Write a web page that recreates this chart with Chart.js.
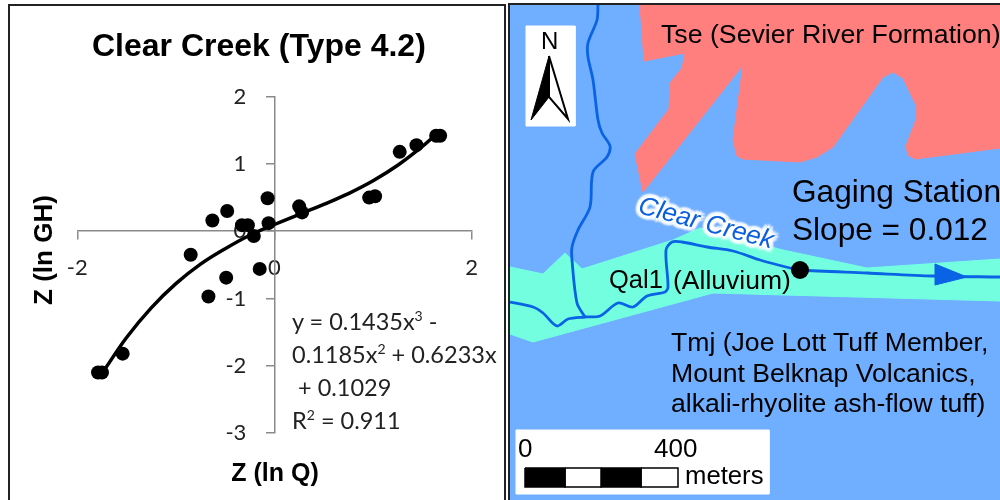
<!DOCTYPE html>
<html>
<head>
<meta charset="utf-8">
<script src="https://cdn.jsdelivr.net/npm/chart.js@4"></script>
<style>
    html, body { margin: 0; padding: 0; background: #fff; }
    #page { position: relative; width: 1000px; height: 500px; overflow: hidden; background: #fff; }
    #leftFrame { position: absolute; left: 8px; top: 4px; width: 498px; height: 500px; border: 2px solid #222; box-sizing: border-box; }
    #mapFrame { position: absolute; left: 508px; top: 3px; width: 500px; height: 500px; border: 2px solid #222; box-sizing: border-box; background: #70aeff; }
    #chartBox { position: absolute; left: 0; top: 0; width: 506px; height: 500px; }
    #mapBox { position: absolute; left: 510px; top: 5px; width: 490px; height: 495px; }
    .txt { position: absolute; white-space: nowrap; color: #000; font-family: "Liberation Sans", sans-serif; line-height: 1; }
    .bold { font-weight: bold; }
    .eq { font-family: Lato, sans-serif; font-size: 23.5px; color: #222; line-height: 33px; }
    .eq sup { font-size: 14px; line-height: 0; }
    .creek { color: #0a5fe0; font-style: italic; font-size: 26px; transform: rotate(15deg); transform-origin: center;
        text-shadow: 2px 0 1px #fff, -2px 0 1px #fff, 0 2px 1px #fff, 0 -2px 1px #fff, 3px 3px 2px #fff, -3px 3px 2px #fff, 3px -3px 2px #fff, -3px -3px 2px #fff, 4px 0 2px #fff, -4px 0 2px #fff, 0 4px 2px #fff, 0 -4px 2px #fff; }
</style>
</head>
<body>
<div id="page">
    <div id="leftFrame"></div>
    <div id="chartBox"><canvas id="curveChart" width="506" height="500"></canvas></div>
    <div class="txt bold" style="left:92px; top:29px; font-size:32px;">Clear Creek (Type 4.2)</div>
    <div class="txt bold" style="left:-27px; top:237px; width:140px; text-align:center; font-size:26px; transform:rotate(-90deg);">Z (ln GH)</div>
    <div class="txt bold" style="left:212px; top:460px; width:126px; text-align:center; font-size:25px;">Z (ln Q)</div>
    <div class="txt eq" style="left:292px; top:305px;">y = 0.1435x<sup>3</sup> -<br>0.1185x<sup>2</sup> + 0.6233x<br>&nbsp;+ 0.1029<br>R<sup>2</sup> = 0.911</div>

    <div id="mapFrame"></div>
    <div id="mapBox"><canvas id="mapChart" width="490" height="495"></canvas></div>
    <div class="txt" style="left:661px; top:21px; font-size:26.7px;">Tse (Sevier River Formation)</div>
    <div class="txt" style="left:792px; top:176px; font-size:31.6px;">Gaging Station</div>
    <div class="txt" style="left:792px; top:214px; font-size:31.6px;">Slope = 0.012</div>
    <div class="txt" style="left:609px; top:267px; font-size:25.5px;">Qal1</div>
    <div class="txt" style="left:673px; top:267px; font-size:26.5px;">(Alluvium)</div>
    <div class="txt" style="left:671px; top:329px; font-size:26.6px;">Tmj (Joe Lott Tuff Member,</div>
    <div class="txt" style="left:671px; top:360px; font-size:26.6px;">Mount Belknap Volcanics,</div>
    <div class="txt" style="left:671px; top:390px; font-size:26.6px;">alkali-rhyolite ash-flow tuff)</div>
    <div class="txt" style="left:518px; top:435px; font-size:26px;">0</div>
    <div class="txt" style="left:654px; top:435px; font-size:26px;">400</div>
    <div class="txt" style="left:685px; top:463px; font-size:25.7px;">meters</div>
    <div class="txt" style="left:541px; top:29px; font-size:24px;">N</div>
    <div class="txt creek" style="left:637px; top:209px;">Clear Creek</div>
</div>

<script>
// scatter points
var xValues = [-1.79, -1.75, -1.54, -0.85, -0.67, -0.49, -0.15, -0.63, -0.48, -0.33, -0.27, -0.21, -0.07, -0.06, 0.25, 0.28, 0.96, 1.02, 1.27, 1.44, 1.64, 1.68];
var yValues = [-2.10, -2.10, -1.82, -0.35, -0.97, -0.69, -0.56, 0.16, 0.30, 0.09, 0.09, -0.07, 0.49, 0.12, 0.37, 0.28, 0.50, 0.52, 1.18, 1.28, 1.42, 1.42];

// trend line
var curveX = [-1.72, -1.50, -1.25, -1.00, -0.75, -0.50, -0.25, 0.00, 0.25, 0.50, 0.75, 1.00, 1.25, 1.50, 1.60];
var curveY = [-2.05, -1.58, -1.14, -0.78, -0.49, -0.26, -0.06, 0.10, 0.25, 0.40, 0.56, 0.75, 0.98, 1.26, 1.39];

var xTicks = [-2, 0, 2];
var yTicks = [2, 1, 0, -1, -2, -3];

// map outlines, in the map's own coordinates
var tseOutline = [[640,5],[644,61],[685,53],[682,68],[670,83],[669,109],[635,154],[643,192],[743,65],[733,140],[737,156],[743,159],[800,162],[817,157],[833,147],[883,77],[893,72],[903,78],[917,107],[917,117],[906,146],[908,155],[915,159],[1000,148],[1000,5]];
var qalOutline = [[510,267],[543,274],[565,253],[582,269],[673,240],[700,228],[783,250],[867,268],[1000,259],[1000,301],[713,293],[533,342],[510,334]];
var mainStream = [[510,302],[533,307],[543,313],[557,326],[568,319],[585,317],[600,316],[618,303],[633,307],[647,296],[665,292],[668,287],[666,250],[672,242],[682,242],[707,247],[733,251],[760,260],[790,268],[800,270],[867,273],[933,276],[1000,277]];
var sideStream = [[598,5],[597,20],[588,43],[588,57],[593,80],[598,120],[602,133],[610,146],[607,157],[593,172],[590,207],[578,230],[572,247],[572,260],[577,303],[585,317]];
var flowArrow = [[935,264],[967,277],[935,285]];
var gagingStation = [[800,270]];
var northBox = [[526,26],[575,26],[575,126],[526,126]];
var northLeft = [[549,56],[531,120],[549,97]];
var northRight = [[549,56],[568,119],[549,97]];
var scaleBox = [[516,430],[769,430],[769,494],[516,494]];
var scaleBlack1 = [[525,468],[565,468],[565,487],[525,487]];
var scaleWhite1 = [[565,468],[601,468],[601,487],[565,487]];
var scaleBlack2 = [[601,468],[641,468],[641,487],[601,487]];
var scaleWhite2 = [[641,468],[678,468],[678,487],[641,487]];

function toPoints(list) {
    return list.map(function (p) { return { x: p[0], y: p[1] }; });
}

function shape(list, color, line, lineWidth) {
    return {
        data: toPoints(list),
        showLine: true,
        fill: 'shape',
        backgroundColor: color,
        borderColor: line || color,
        borderWidth: lineWidth === undefined ? 1 : lineWidth,
        pointRadius: 0,
        tension: 0
    };
}

function closed(list) {
    return list.concat([list[0]]);
}

function stream(list, width) {
    return {
        data: toPoints(list),
        showLine: true,
        fill: false,
        borderColor: '#0a62e4',
        borderWidth: width,
        pointRadius: 0,
        tension: 0.3
    };
}

var axisGray = '#8a8a8a';

new Chart(document.getElementById('curveChart').getContext('2d'), {
    type: 'scatter',
    data: {
        datasets: [{
            data: xValues.map(function (x, i) { return { x: x, y: yValues[i] }; }),
            backgroundColor: '#000',
            borderColor: '#000',
            pointRadius: 7,
            pointBorderWidth: 0
        }, {
            data: curveX.map(function (x, i) { return { x: x, y: curveY[i] }; }),
            showLine: true,
            borderColor: '#000',
            borderWidth: 3.5,
            pointRadius: 0,
            tension: 0.4
        }]
    },
    options: {
        responsive: false,
        animation: false,
        layout: { autoPadding: false, padding: { left: 77.3, right: 34.3, top: 96.7, bottom: 67 } },
        plugins: { legend: { display: false }, tooltip: { enabled: false } },
        scales: {
            x: {
                type: 'linear',
                position: { y: 0 },
                min: -2,
                max: 2,
                afterBuildTicks: function (axis) { axis.ticks = xTicks.map(function (v) { return { value: v }; }); },
                border: { color: axisGray, width: 1.5 },
                grid: { drawOnChartArea: false, color: axisGray, tickLength: 8, lineWidth: 1.5 },
                ticks: { color: '#222', font: { family: 'Lato', size: 22 }, padding: 15, maxRotation: 0, autoSkip: false }
            },
            y: {
                type: 'linear',
                position: { x: 0 },
                min: -3,
                max: 2,
                afterBuildTicks: function (axis) { axis.ticks = yTicks.map(function (v) { return { value: v }; }); },
                border: { color: axisGray, width: 1.5 },
                grid: { drawOnChartArea: false, color: axisGray, tickLength: 8, lineWidth: 1.5 },
                ticks: {
                    color: '#222',
                    font: { family: 'Lato', size: 22 },
                    autoSkip: false,
                    // labels sit on the axis line when the axis is placed at x=0, trailing spaces push them left
                    callback: function (value) { return value + '     '; }
                }
            }
        }
    }
});

// first dataset ends up on top, so the list runs from top layer to bottom
new Chart(document.getElementById('mapChart').getContext('2d'), {
    type: 'scatter',
    data: {
        datasets: [
            {
                data: toPoints(gagingStation),
                backgroundColor: '#000',
                pointRadius: 9,
                pointBorderWidth: 0
            },
            shape(closed(flowArrow), '#0a62e4'),
            stream(mainStream, 2.8),
            stream(sideStream, 2.8),
            shape(closed(northRight), '#fff', '#000', 2),
            shape(closed(northLeft), '#000'),
            shape(closed(northBox), '#fff', '#fff'),
            shape(closed(scaleBlack1), '#000', '#000', 1.5),
            shape(closed(scaleWhite1), '#fff', '#000', 1.5),
            shape(closed(scaleBlack2), '#000', '#000', 1.5),
            shape(closed(scaleWhite2), '#fff', '#000', 1.5),
            shape(closed(scaleBox), '#fff', '#fff'),
            shape(closed(qalOutline), '#73ffdf'),
            shape(closed(tseOutline), '#ff7f7f')
        ]
    },
    options: {
        responsive: false,
        animation: false,
        layout: { autoPadding: false, padding: 0 },
        plugins: { legend: { display: false }, tooltip: { enabled: false } },
        scales: {
            x: { type: 'linear', display: false, min: 510, max: 1000 },
            y: { type: 'linear', display: false, min: 5, max: 500, reverse: true }
        }
    }
});
</script>
</body>
</html>
